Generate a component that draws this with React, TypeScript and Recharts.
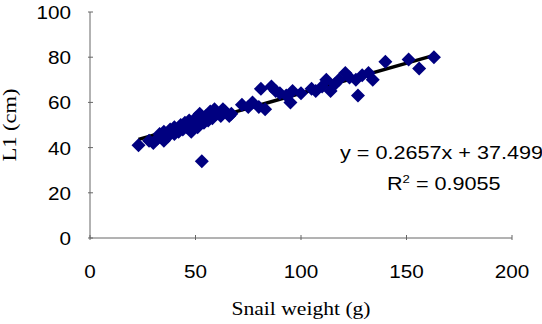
import React from 'react';
import { ScatterChart, Scatter, XAxis, YAxis, ReferenceLine, Label } from 'recharts';

// snail weight (g)
const weights = [
    23, 28, 30, 32, 33, 35, 35, 37, 38, 40, 40, 42, 43, 44, 45, 46, 47, 48, 49, 50,
    51, 52, 53, 54, 55, 56, 57, 58, 59, 60, 62, 63, 64, 66, 67, 72, 75, 77, 80, 81,
    83, 86, 88, 90, 93, 95, 96, 100, 105, 107, 110, 112, 114, 116, 118, 121, 123, 126, 127, 129,
    132, 134, 140, 151, 156, 163,
];
// L1 (cm)
const lengths = [
    41, 43, 42, 44, 46, 43, 47, 45, 48, 46, 49, 47, 50, 48, 51, 49, 52, 47, 50, 53,
    49, 55, 34, 51, 54, 52, 56, 53, 57, 55, 54, 57, 56, 54, 55, 59, 58, 60, 58, 66,
    57, 67, 65, 64, 63, 60, 65, 64, 66, 65, 67, 70, 65, 68, 70, 73, 71, 70, 63, 72,
    73, 70, 78, 79, 75, 80,
];
const xTicks = [0, 50, 100, 150, 200];
const yTicks = [0, 20, 40, 60, 80, 100];

const slope = 0.2657;
const intercept = 37.499;
const fitFrom = 23;
const fitTo = 163;

const data = weights.map((w, i) => ({ x: w, y: lengths[i] }));

const sans = 'Liberation Sans, Arial, sans-serif';
const serif = 'Liberation Serif, Times New Roman, serif';

const Diamond = (props: any) => {
    const { cx, cy } = props;
    const r = 7;
    return (
        <polygon
            points={`${cx},${cy - r} ${cx + r},${cy} ${cx},${cy + r} ${cx - r},${cy}`}
            fill='#000080'
        />
    );
};

const XTick = (props: any) => {
    const { x, y, payload } = props;
    return (
        <g>
            <line x1={x} y1={y} x2={x} y2={y - 5} stroke='#666' />
            <text transform={`translate(${x},${y + 38}) scale(1.15,1)`} textAnchor='middle'
                fontSize={18} fill='#000' fontFamily={sans}>{payload.value}</text>
        </g>
    );
};

const YTick = (props: any) => {
    const { x, y, payload } = props;
    return (
        <g>
            <line x1={x} y1={y} x2={x + 5} y2={y} stroke='#666' />
            <text transform={`translate(${x - 17},${y + 7}) scale(1.15,1)`} textAnchor='end'
                fontSize={18} fill='#000' fontFamily={sans}>{payload.value}</text>
        </g>
    );
};

const XTitle = (props: any) => {
    const { x, y, width } = props.viewBox;
    return (
        <text transform={`translate(${x + width / 2},${y + 77}) scale(1.2,1)`} textAnchor='middle'
            fontSize={18} fill='#000' fontFamily={serif}>Snail weight (g)</text>
    );
};

const YTitle = (props: any) => {
    const { y, height } = props.viewBox;
    return (
        <text transform={`translate(16,${y + height / 2}) rotate(-90) scale(1.25,1)`} textAnchor='middle'
            fontSize={18} fill='#000' fontFamily={serif}>L1 (cm)</text>
    );
};

export default function App() {
    return (
        <div style={{ position: 'absolute', left: 0, top: 0, width: 542, height: 324, background: '#fff', overflow: 'hidden' }}>
            <ScatterChart width={542} height={324} margin={{ top: 12, right: 30, bottom: 56, left: 30 }}>
                <XAxis
                    type='number'
                    dataKey='x'
                    domain={[0, 200]}
                    ticks={xTicks}
                    tickSize={0}
                    tickLine={false}
                    tick={<XTick />}
                    stroke='#666'
                    height={30}
                    interval={0}
                >
                    <Label content={<XTitle />} />
                </XAxis>
                <YAxis
                    type='number'
                    dataKey='y'
                    domain={[0, 100]}
                    ticks={yTicks}
                    tickSize={0}
                    tickLine={false}
                    tick={<YTick />}
                    stroke='#666'
                    width={60}
                    interval={0}
                >
                    <Label content={<YTitle />} />
                </YAxis>
                <Scatter data={data} shape={<Diamond />} isAnimationActive={false} />
                <ReferenceLine
                    segment={[
                        { x: fitFrom, y: slope * fitFrom + intercept },
                        { x: fitTo, y: slope * fitTo + intercept },
                    ]}
                    stroke='#000'
                    strokeWidth={3.5}
                    ifOverflow='visible'
                />
            </ScatterChart>
            <div style={{ position: 'absolute', left: 340, top: 143, fontFamily: sans, fontSize: 18, whiteSpace: 'nowrap', transform: 'scaleX(1.2)', transformOrigin: 'left top' }}>
                y = 0.2657x + 37.499
            </div>
            <div style={{ position: 'absolute', left: 387, top: 173, fontFamily: sans, fontSize: 18, whiteSpace: 'nowrap', transform: 'scaleX(1.2)', transformOrigin: 'left top' }}>
                R<sup style={{ fontSize: 11 }}>2</sup> = 0.9055
            </div>
        </div>
    );
}
